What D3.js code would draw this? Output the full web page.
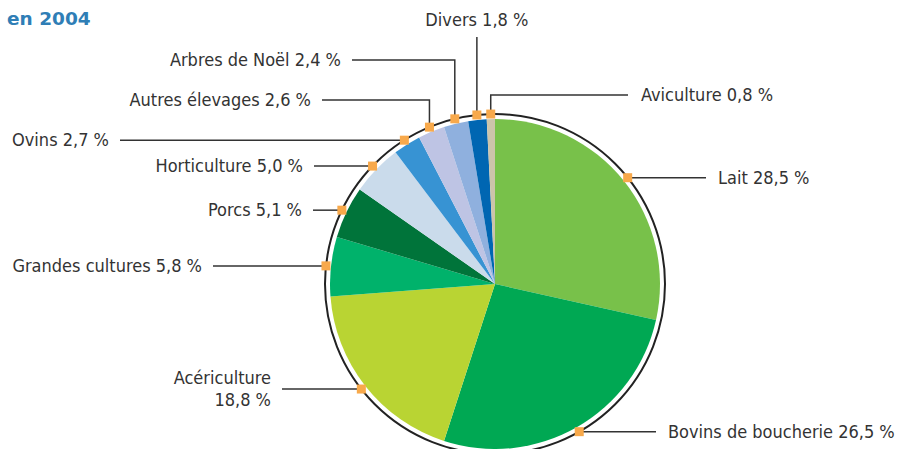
<!DOCTYPE html>
<html>
<head>
<meta charset="utf-8">
<script src="https://cdn.jsdelivr.net/npm/d3@7"></script>
<style>
  body { margin: 0; background: #fff; }
  svg text { font-family: "DejaVu Sans Condensed", "Liberation Sans Narrow", sans-serif; fill: #333; }
</style>
</head>
<body>
<div id="chart"></div>
<script>
// categories and shares (%) clockwise from 12 o'clock
var categories = ["Lait", "Bovins de boucherie", "Acériculture", "Grandes cultures", "Porcs",
    "Horticulture", "Ovins", "Autres élevages", "Arbres de Noël", "Divers", "Aviculture"];
var shares = [28.5, 26.5, 18.8, 5.8, 5.1, 5.0, 2.7, 2.6, 2.4, 1.8, 0.8];
var shareLabels = ["28,5 %", "26,5 %", "18,8 %", "5,8 %", "5,1 %", "5,0 %", "2,7 %", "2,6 %", "2,4 %", "1,8 %", "0,8 %"];
var colors = ["#78c14a", "#00a853", "#b9d433", "#00b26b", "#00743a", "#cadbeb",
    "#3793d3", "#bec4e4", "#8fb0de", "#0066b2", "#ccc4aa"];

// where each label goes (layout only)
// kind: "left"/"right" = horizontal leader, "elbowL"/"elbowR" = up then across, "up" = straight up
var labelLayout = [
    { kind: "right", end: 706 },
    { kind: "right", end: 656 },
    { kind: "left", end: 282, twoLines: true },
    { kind: "left", end: 213 },
    { kind: "left", end: 313 },
    { kind: "left", end: 314 },
    { kind: "left", end: 120 },
    { kind: "elbowL", y: 100, end: 322 },
    { kind: "elbowL", y: 60, end: 352 },
    { kind: "up", y: 37 },
    { kind: "elbowR", y: 95, end: 628 }
];

var svgWidth = 905, svgHeight = 449;
var cx = 495, cy = 284;
var pieR = 165, ringR = 170;
var fontSize = "18px";

var svg = d3.select("#chart").append("svg")
    .attr("width", svgWidth)
    .attr("height", svgHeight);

// title (upper line is cut off in the original)
svg.append("text")
    .attr("x", 7)
    .attr("y", 25)
    .style("font-family", "'DejaVu Sans', sans-serif")
    .style("font-weight", "bold")
    .style("font-size", "18.5px")
    .style("fill", "#2f7eb6")
    .text("en 2004");

var data = categories.map(function (c, i) {
    return { name: c, value: shares[i], label: shareLabels[i], color: colors[i], layout: labelLayout[i] };
});

var pie = d3.pie().sort(null).value(d => d.value);
var arcs = pie(data);

var arc = d3.arc().innerRadius(0).outerRadius(pieR);

var g = svg.append("g").attr("transform", `translate(${cx}, ${cy})`);

g.selectAll("path.slice")
    .data(arcs)
    .enter()
    .append("path")
    .attr("class", "slice")
    .attr("d", arc)
    .attr("fill", d => d.data.color);

// outer ring
g.append("circle")
    .attr("r", ringR)
    .attr("fill", "none")
    .attr("stroke", "#222")
    .attr("stroke-width", 2);

// leader lines and labels
arcs.forEach(function (d) {
    var mid = (d.startAngle + d.endAngle) / 2;
    var mx = cx + ringR * Math.sin(mid);
    var my = cy - ringR * Math.cos(mid);
    var L = d.data.layout;
    var pts, tx, ty, anchor;

    if (L.kind === "right") {
        pts = [[mx, my], [L.end, my]];
        tx = L.end + 12; ty = my; anchor = "start";
    } else if (L.kind === "left") {
        pts = [[mx, my], [L.end, my]];
        tx = L.end - 11; ty = my; anchor = "end";
    } else if (L.kind === "elbowL") {
        pts = [[mx, my], [mx, L.y], [L.end, L.y]];
        tx = L.end - 11; ty = L.y; anchor = "end";
    } else if (L.kind === "elbowR") {
        pts = [[mx, my], [mx, L.y], [L.end, L.y]];
        tx = L.end + 13; ty = L.y; anchor = "start";
    } else {
        pts = [[mx, my], [mx, L.y]];
        tx = mx; ty = L.y - 17; anchor = "middle";
    }

    svg.append("path")
        .attr("d", d3.line()(pts))
        .attr("fill", "none")
        .attr("stroke", "#333")
        .attr("stroke-width", 1.5);

    var t = svg.append("text")
        .attr("x", tx)
        .attr("text-anchor", anchor)
        .style("font-size", fontSize);

    if (L.twoLines) {
        t.attr("y", ty - 11).attr("dy", "0.35em").text(d.data.name);
        svg.append("text")
            .attr("x", tx)
            .attr("y", ty + 11)
            .attr("dy", "0.35em")
            .attr("text-anchor", anchor)
            .style("font-size", fontSize)
            .text(d.data.label);
    } else {
        t.attr("y", ty).attr("dy", "0.35em").text(d.data.name + " " + d.data.label);
    }

    svg.append("rect")
        .attr("x", mx - 4.5)
        .attr("y", my - 4.5)
        .attr("width", 9)
        .attr("height", 9)
        .attr("fill", "#f8a94b");
});
</script>
</body>
</html>
